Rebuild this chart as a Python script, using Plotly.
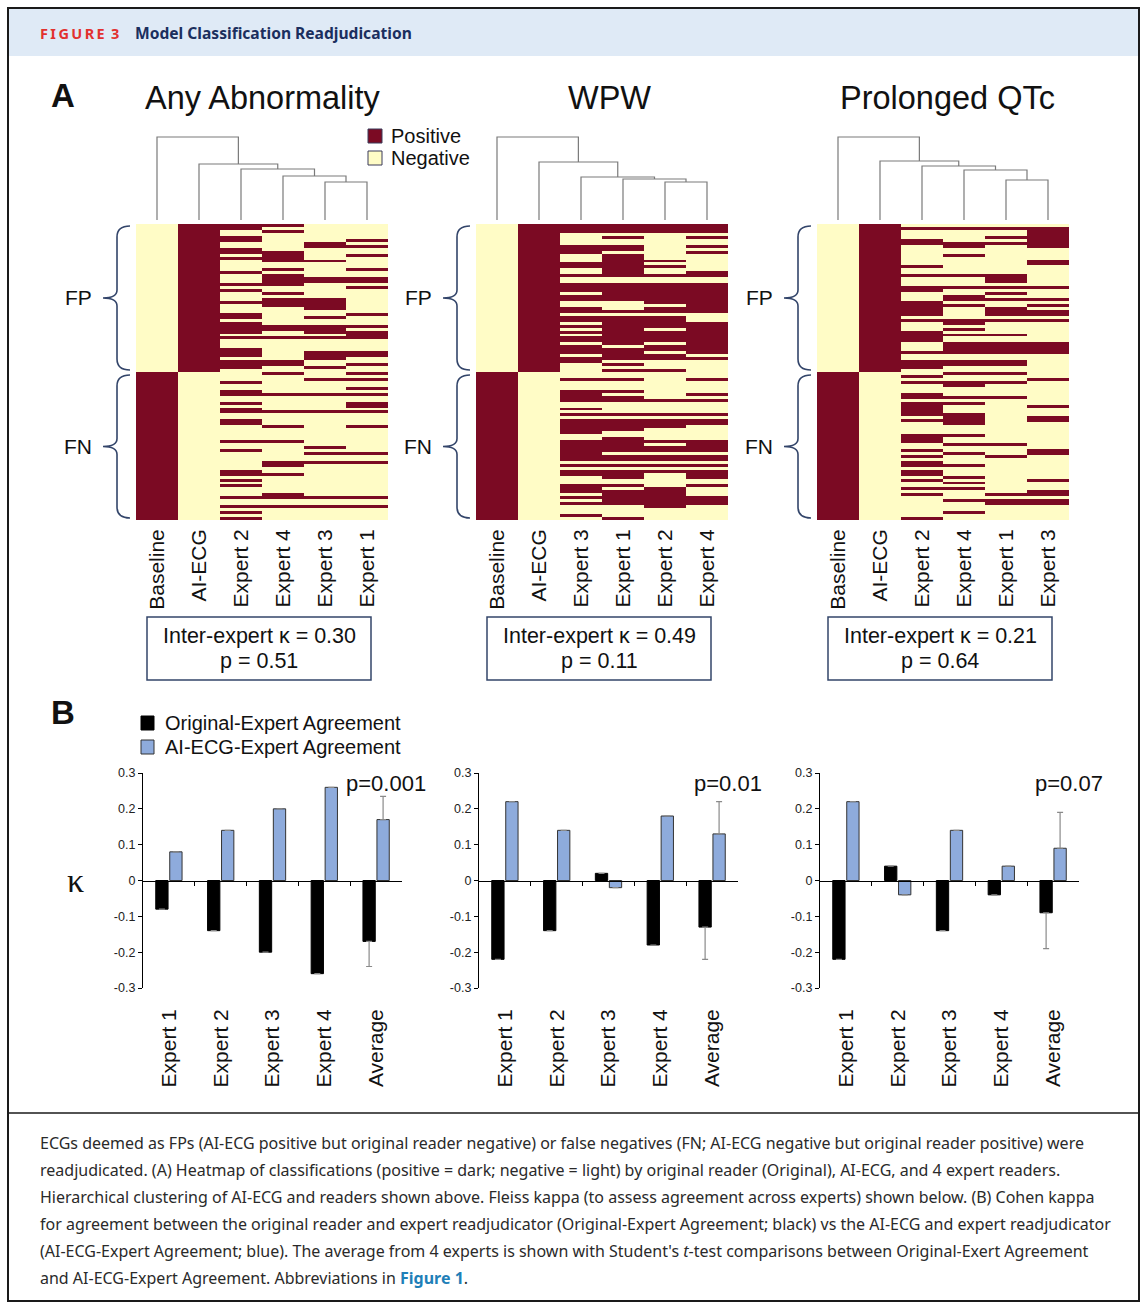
import plotly.graph_objects as go

W, H = 1147, 1309

# ---------------- data ----------------
panel_titles = ["Any Abnormality", "WPW", "Prolonged QTc"]
n_fp = 50
n_fn = 50

any_leaves = ["Baseline", "AI-ECG", "Expert 2", "Expert 4", "Expert 3", "Expert 1"]
any_heights = [83, 56, 51, 44, 38]
any_fp_pos = [
    [0, 1, 4, 5, 8, 9, 11, 16, 20, 22, 26, 30, 31, 33, 34, 35, 36, 38, 42, 43, 44, 46, 47, 48],
    [0, 2, 9, 10, 11, 12, 15, 17, 18, 19, 20, 23, 25, 26, 27, 34, 35, 38, 46, 47],
    [6, 7, 12, 18, 19, 25, 26, 27, 28, 31, 34, 35, 36, 38, 43, 44, 45, 48],
    [5, 7, 10, 15, 18, 19, 21, 30, 34, 36, 37, 38, 43, 44, 47],
]
any_fn_pos = [
    [3, 6, 7, 10, 12, 13, 16, 17, 23, 26, 33, 34, 36, 38, 42, 45, 47, 49],
    [0, 7, 13, 18, 23, 30, 31, 34, 41, 42, 45],
    [2, 7, 13, 25, 27, 30, 42, 45],
    [0, 2, 5, 7, 10, 11, 13, 18, 27, 30, 42, 45],
]

wpw_leaves = ["Baseline", "AI-ECG", "Expert 3", "Expert 1", "Expert 2", "Expert 4"]
wpw_heights = [83, 58, 43, 41, 38]
wpw_fp_pos = [
    [0, 1, 2, 7, 8, 9, 13, 14, 17, 20, 21, 22, 24, 25, 28, 29, 31, 32, 34, 36, 38, 39, 41, 42, 43, 45, 46],
    [0, 1, 2, 4, 7, 8, 10, 11, 12, 13, 14, 15, 16, 17, 20, 21, 22, 23, 24, 25, 29, 31, 32, 33, 34, 35,
     36, 37, 38, 39, 40, 42, 43, 44, 45, 47, 49],
    [0, 1, 2, 12, 14, 17, 20, 21, 22, 23, 24, 25, 26, 28, 29, 31, 32, 33, 34, 36, 37, 38, 39, 41, 42,
     44, 45, 49],
    [0, 1, 2, 4, 7, 9, 16, 17, 20, 21, 22, 23, 24, 25, 26, 27, 28, 29, 33, 34, 35, 36, 37, 38, 39, 40,
     41, 42, 43, 45],
]
wpw_fn_pos = [
    [2, 6, 7, 8, 9, 12, 14, 16, 17, 18, 19, 20, 23, 24, 25, 26, 27, 28, 29, 31, 33, 34, 38, 39, 40, 42, 44, 48],
    [2, 6, 8, 9, 14, 16, 17, 18, 19, 22, 23, 24, 25, 26, 28, 29, 31, 33, 34, 35, 38, 40, 41, 42, 43, 44, 49],
    [9, 14, 16, 17, 18, 23, 25, 26, 28, 29, 31, 33, 39, 40, 41, 42, 43, 44, 45],
    [2, 7, 9, 14, 16, 17, 23, 24, 25, 26, 28, 29, 31, 33, 34, 35, 38, 42, 43, 44],
]

qtc_leaves = ["Baseline", "AI-ECG", "Expert 2", "Expert 4", "Expert 1", "Expert 3"]
qtc_heights = [83, 59, 54, 50, 40]
qtc_fp_pos = [
    [1, 5, 6, 14, 17, 21, 22, 26, 27, 28, 29, 30, 32, 36, 37, 38, 39, 43, 46, 47, 48],
    [1, 6, 7, 10, 17, 21, 24, 25, 27, 32, 33, 35, 37, 40, 41, 42, 43, 46, 47],
    [1, 4, 6, 17, 18, 19, 21, 23, 25, 28, 29, 30, 32, 37, 40, 41, 42, 43, 46, 47],
    [1, 2, 3, 4, 5, 6, 7, 12, 13, 21, 25, 27, 29, 30, 32, 40, 41, 42, 43],
]
qtc_fn_pos = [
    [1, 3, 7, 8, 10, 11, 12, 13, 14, 16, 21, 22, 23, 26, 28, 30, 31, 33, 34, 36, 39, 41, 49],
    [0, 3, 4, 8, 10, 14, 15, 16, 17, 21, 24, 27, 31, 35, 37, 39, 43, 47],
    [0, 3, 8, 24, 28, 41, 43, 44],
    [2, 11, 15, 16, 26, 27, 36, 40, 41, 43, 44],
]

kappa_lines = ["Inter-expert κ = 0.30", "Inter-expert κ = 0.49", "Inter-expert κ = 0.21"]
kappa_p = ["p = 0.51", "p = 0.11", "p = 0.64"]

bar_categories = ["Expert 1", "Expert 2", "Expert 3", "Expert 4", "Average"]
any_orig = [-0.08, -0.14, -0.20, -0.26, -0.17]
any_ai = [0.08, 0.14, 0.20, 0.26, 0.17]
any_orig_err = [0, 0, 0, 0, 0.07]
any_ai_err = [0, 0, 0, 0, 0.065]
wpw_orig = [-0.22, -0.14, 0.02, -0.18, -0.13]
wpw_ai = [0.22, 0.14, -0.02, 0.18, 0.13]
wpw_orig_err = [0, 0, 0, 0, 0.09]
wpw_ai_err = [0, 0, 0, 0, 0.09]
qtc_orig = [-0.22, 0.04, -0.14, -0.04, -0.09]
qtc_ai = [0.22, -0.04, 0.14, 0.04, 0.09]
qtc_orig_err = [0, 0, 0, 0, 0.10]
qtc_ai_err = [0, 0, 0, 0, 0.10]
p_values = ["p=0.001", "p=0.01", "p=0.07"]
ytick_vals = [0.3, 0.2, 0.1, 0, -0.1, -0.2, -0.3]
ytick_text = ["0.3", "0.2", "0.1", "0", "-0.1", "-0.2", "-0.3"]

caption_lines = [
    "ECGs deemed as FPs (AI-ECG positive but original reader negative) or false negatives (FN; AI-ECG negative but original reader positive) were",
    "readjudicated. (A) Heatmap of classifications (positive = dark; negative = light) by original reader (Original), AI-ECG, and 4 expert readers.",
    "Hierarchical clustering of AI-ECG and readers shown above. Fleiss kappa (to assess agreement across experts) shown below. (B) Cohen kappa",
    "for agreement between the original reader and expert readjudicator (Original-Expert Agreement; black) vs the AI-ECG and expert readjudicator",
    "(AI-ECG-Expert Agreement; blue). The average from 4 experts is shown with Student's <i>t</i>-test comparisons between Original-Exert Agreement",
    "and AI-ECG-Expert Agreement. Abbreviations in <b><span style='color:#1f7fb8'>Figure 1</span></b>.",
]

# ---------------- styles ----------------
DARK = "#7b0a23"
LIGHT = "#fffcc6"
BLUE = "#8eabdc"
NAVY = "#33456a"
SANS = "Liberation Sans, Arial, sans-serif"
CAP = "Noto Sans, Open Sans, sans-serif"


def X(px):
    return px / W


def Y(py):
    return 1 - py / H


def path(points_cmds):
    out = []
    for cmd in points_cmds:
        c = cmd[0]
        pts = cmd[1:]
        out.append(c + " " + " ".join(f"{X(a):.5f},{Y(b):.5f}" for a, b in pts))
    return " ".join(out)


fig = go.Figure()
layout = {}
shapes = []
annotations = []

leaves_all = [any_leaves, wpw_leaves, qtc_leaves]
heights_all = [any_heights, wpw_heights, qtc_heights]
fp_all = [any_fp_pos, wpw_fp_pos, qtc_fp_pos]
fn_all = [any_fn_pos, wpw_fn_pos, qtc_fn_pos]

hm_left = [136, 476, 817]
hm_w = 252
hm_top, hm_bot = 224, 520
title_x = [263, 609, 947]

for i in range(3):
    leaves = leaves_all[i]
    fp, fn = fp_all[i], fn_all[i]
    z = []
    for r in range(n_fp):
        row = [0, 1] + [1 if r in fp[k] else 0 for k in range(4)]
        z.append(row)
    for r in range(n_fn):
        row = [1, 0] + [1 if r in fn[k] else 0 for k in range(4)]
        z.append(row)
    xn = "" if i == 0 else str(i + 1)
    fig.add_trace(go.Heatmap(
        z=z, x=leaves, y=list(range(n_fp + n_fn)),
        colorscale=[[0, LIGHT], [1, DARK]], zmin=0, zmax=1, showscale=False,
        hoverinfo="skip", xaxis="x" + xn, yaxis="y" + xn))
    l = hm_left[i]
    layout["xaxis" + xn] = dict(domain=[X(l), X(l + hm_w)], anchor="y" + xn, type="category",
                                tickangle=-90, tickfont=dict(family=SANS, size=21, color="#111"),
                                ticks="", showline=False, showgrid=False, zeroline=False,
                                ticklabelstandoff=4, fixedrange=True, automargin=False)
    layout["yaxis" + xn] = dict(domain=[Y(hm_bot), Y(hm_top)], anchor="x" + xn,
                                range=[n_fp + n_fn - 0.5, -0.5], visible=False, fixedrange=True,
                                automargin=False)

    # dendrogram (caterpillar linkage: leaf k joins cluster of leaves k+1..5)
    h = heights_all[i]
    n = len(leaves)
    cpos = [0] * n
    ch = [0] * n
    cpos[n - 1] = n - 1
    ch[n - 1] = 0
    xs, ys = [], []
    for k in range(n - 2, -1, -1):
        xs += [k, k, cpos[k + 1], cpos[k + 1], None]
        ys += [0, h[k], h[k], ch[k + 1], None]
        cpos[k] = (k + cpos[k + 1]) / 2
        ch[k] = h[k]
    dn = str(i + 4)
    fig.add_trace(go.Scatter(x=xs, y=ys, mode="lines", line=dict(color="#7a7a7a", width=1.2),
                             hoverinfo="skip", xaxis="x" + dn, yaxis="y" + dn))
    layout["xaxis" + dn] = dict(domain=[X(l), X(l + hm_w)], anchor="y" + dn, range=[-0.5, n - 0.5],
                                visible=False, fixedrange=True, automargin=False)
    layout["yaxis" + dn] = dict(domain=[Y(220), Y(136)], anchor="x" + dn, range=[0, 84],
                                visible=False, fixedrange=True, automargin=False)

    # title
    annotations.append(dict(x=X(title_x[i]), y=Y(98), xref="paper", yref="paper", text=panel_titles[i],
                            showarrow=False, xanchor="center", yanchor="middle",
                            font=dict(family=SANS, size=32.5, color="#111")))
    # braces + FP / FN labels
    xr, xs_, xt = l - 6, l - 19, l - 33
    for (y0, y1, lab) in [(226, 370, "FP"), (375, 518, "FN")]:
        ym = (y0 + y1) / 2
        p = path([("M", (xr, y0)), ("Q", (xs_, y0), (xs_, y0 + 11)), ("L", (xs_, ym - 8)),
                  ("Q", (xs_, ym), (xt, ym)), ("Q", (xs_, ym), (xs_, ym + 8)),
                  ("L", (xs_, y1 - 11)), ("Q", (xs_, y1), (xr, y1))])
        shapes.append(dict(type="path", path=p, xref="paper", yref="paper",
                           line=dict(color=NAVY, width=1.6)))
        annotations.append(dict(x=X(xt - 9), y=Y(ym), xref="paper", yref="paper", text=lab,
                                showarrow=False, xanchor="right", yanchor="middle",
                                font=dict(family=SANS, size=21, color="#111")))
    # kappa box
    bx0 = l + 11
    shapes.append(dict(type="rect", xref="paper", yref="paper", x0=X(bx0), x1=X(bx0 + 224),
                       y0=Y(617), y1=Y(680), line=dict(color=NAVY, width=1.5)))
    annotations.append(dict(x=X(bx0 + 112), y=Y(636), xref="paper", yref="paper", text=kappa_lines[i],
                            showarrow=False, xanchor="center", yanchor="middle",
                            font=dict(family=SANS, size=21.5, color="#111")))
    annotations.append(dict(x=X(bx0 + 112), y=Y(661), xref="paper", yref="paper", text=kappa_p[i],
                            showarrow=False, xanchor="center", yanchor="middle",
                            font=dict(family=SANS, size=21.5, color="#111")))

# legend Positive / Negative
for (yy, col, lab) in [(136, DARK, "Positive"), (158, LIGHT, "Negative")]:
    shapes.append(dict(type="rect", xref="paper", yref="paper", x0=X(368), x1=X(382),
                       y0=Y(yy + 7), y1=Y(yy - 7), fillcolor=col, line=dict(color="#3a3a5a", width=1)))
    annotations.append(dict(x=X(389), y=Y(yy), xref="paper", yref="paper", text=lab, showarrow=False,
                            xanchor="left", yanchor="middle", font=dict(family=SANS, size=20, color="#111")))

# panel letters
for (yy, lab) in [(96, "A"), (712, "B")]:
    annotations.append(dict(x=X(63), y=Y(yy), xref="paper", yref="paper", text="<b>" + lab + "</b>",
                            showarrow=False, xanchor="center", yanchor="middle",
                            font=dict(family=SANS, size=33, color="#111")))

# ---------------- bar charts ----------------
orig_all = [any_orig, wpw_orig, qtc_orig]
ai_all = [any_ai, wpw_ai, qtc_ai]
orig_err_all = [any_orig_err, wpw_orig_err, qtc_orig_err]
ai_err_all = [any_ai_err, wpw_ai_err, qtc_ai_err]
bar_left = [143, 479, 820]
bar_w = 259
bar_top, bar_bot = 773, 988
zeros = [0] * len(bar_categories)
for i in range(3):
    xn = str(i + 7)
    fig.add_trace(go.Bar(x=bar_categories, y=orig_all[i], marker=dict(color="#000", line=dict(color="#000", width=1)),
                         error_y=dict(type="data", symmetric=False, array=zeros, arrayminus=orig_err_all[i],
                                      color="#8a8a8a", thickness=1.2, width=3),
                         hoverinfo="skip", xaxis="x" + xn, yaxis="y" + xn, name="Original-Expert Agreement"))
    fig.add_trace(go.Bar(x=bar_categories, y=ai_all[i], marker=dict(color=BLUE, line=dict(color="#333", width=1)),
                         error_y=dict(type="data", symmetric=False, array=ai_err_all[i], arrayminus=zeros,
                                      color="#8a8a8a", thickness=1.2, width=3),
                         hoverinfo="skip", xaxis="x" + xn, yaxis="y" + xn, name="AI-ECG-Expert Agreement"))
    l = bar_left[i]
    layout["xaxis" + xn] = dict(domain=[X(l), X(l + bar_w)], anchor="y" + xn, type="category",
                                tickangle=-90, tickfont=dict(family=SANS, size=21, color="#111"),
                                ticks="", showline=False, showgrid=False, zeroline=False,
                                ticklabelstandoff=16, fixedrange=True, automargin=False)
    layout["yaxis" + xn] = dict(domain=[Y(bar_bot), Y(bar_top)], anchor="x" + xn, range=[-0.3, 0.3],
                                tickvals=ytick_vals, ticktext=ytick_text, ticks="outside", ticklen=4,
                                tickcolor="#000", showline=True, linecolor="#000", linewidth=1.2,
                                showgrid=False, zeroline=False, fixedrange=True, automargin=False,
                                tickfont=dict(family=SANS, size=12.5, color="#222"))
    # zero line with category-boundary ticks
    on = str(i + 10)
    zero_frac = (0 - (-0.3)) / 0.6
    zero_paper = Y(bar_bot) + zero_frac * (Y(bar_top) - Y(bar_bot))
    fig.add_trace(go.Scatter(x=[0], y=[0], mode="markers", marker=dict(opacity=0), hoverinfo="skip",
                             xaxis="x" + on, yaxis="y" + xn, showlegend=False))
    layout["xaxis" + on] = dict(overlaying="x" + xn, anchor="free", position=zero_paper,
                                range=[-0.5, len(bar_categories) - 0.5],
                                tickvals=[k + 0.5 for k in range(len(bar_categories) - 1)],
                                ticks="outside", ticklen=4, tickcolor="#000", showline=True,
                                linecolor="#000", linewidth=1.4, showticklabels=False, showgrid=False,
                                zeroline=False, fixedrange=True, automargin=False)
    annotations.append(dict(x=X(l + bar_w + 26), y=Y(783), xref="paper", yref="paper", text=p_values[i],
                            showarrow=False, xanchor="right", yanchor="middle",
                            font=dict(family=SANS, size=22, color="#111")))

# kappa axis label
annotations.append(dict(x=X(75), y=Y(880), xref="paper", yref="paper", text="κ", showarrow=False,
                        xanchor="center", yanchor="middle",
                        font=dict(family="Liberation Serif, DejaVu Serif, serif", size=34, color="#111")))

# legend for B
for (yy, col, lc, lab) in [(723, "#000", "#000", "Original-Expert Agreement"),
                           (747, BLUE, "#333", "AI-ECG-Expert Agreement")]:
    shapes.append(dict(type="rect", xref="paper", yref="paper", x0=X(141), x1=X(154),
                       y0=Y(yy + 7), y1=Y(yy - 7), fillcolor=col, line=dict(color=lc, width=1)))
    annotations.append(dict(x=X(163), y=Y(yy), xref="paper", yref="paper", text=lab, showarrow=False,
                            xanchor="left", yanchor="middle", font=dict(family=SANS, size=20, color="#111")))

# ---------------- frame, header, caption ----------------
shapes.insert(0, dict(type="rect", xref="paper", yref="paper", x0=X(9), x1=X(1138), y0=Y(56), y1=Y(9),
                      fillcolor="#dfeaf6", line=dict(width=0), layer="below"))
shapes.append(dict(type="rect", xref="paper", yref="paper", x0=X(8), x1=X(1139), y0=Y(1301), y1=Y(8),
                   line=dict(color="#1a1a1a", width=2)))
shapes.append(dict(type="line", xref="paper", yref="paper", x0=X(8), x1=X(1139), y0=Y(1113), y1=Y(1113),
                   line=dict(color="#1a1a1a", width=1.5)))
annotations.append(dict(x=X(38), y=Y(33), xref="paper", yref="paper",
                        text="<b>F\u2009I\u2009G\u2009U\u2009R\u2009E\u2009 3</b>",
                        showarrow=False, xanchor="left", yanchor="middle",
                        font=dict(family=CAP, size=14.5, color="#e2312f")))
annotations.append(dict(x=X(133), y=Y(33), xref="paper", yref="paper",
                        text="<b>Model Classification Readjudication</b>",
                        showarrow=False, xanchor="left", yanchor="middle",
                        font=dict(family=CAP, size=15.6, color="#1b2f5e")))
for k, line in enumerate(caption_lines):
    annotations.append(dict(x=X(38), y=Y(1143 + 27 * k), xref="paper", yref="paper", text=line,
                            showarrow=False, xanchor="left", yanchor="middle",
                            font=dict(family=CAP, size=16, color="#2a2a2a")))

fig.update_layout(width=W, height=H, margin=dict(l=0, r=0, t=0, b=0, pad=0, autoexpand=False),
                  paper_bgcolor="white",
                  plot_bgcolor="rgba(0,0,0,0)", showlegend=False, barmode="group",
                  bargap=0.46, bargroupgap=0.12, shapes=shapes, annotations=annotations, **layout)
fig.write_html("out.html", config={"displayModeBar": False},
               post_script="var d=document.getElementById('{plot_id}');"
                           "d.style.position='fixed';d.style.left='0px';d.style.top='0px';"
                           "document.body.style.margin='0';document.body.style.padding='0';"
                           "document.body.style.overflow='hidden';"
                           "document.documentElement.style.overflow='hidden';")
